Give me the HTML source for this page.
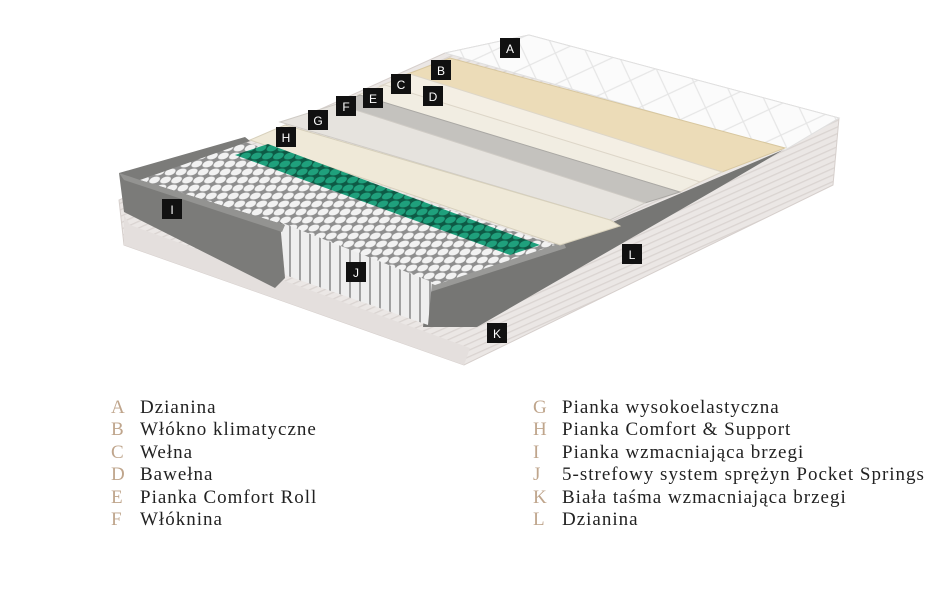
<!DOCTYPE html>
<html><head><meta charset="utf-8"><style>
html,body{margin:0;padding:0;background:#fff;width:950px;height:600px;overflow:hidden}
svg{position:absolute;left:0;top:0}
.leg{position:absolute;font-family:"Liberation Serif",serif;font-size:19px;letter-spacing:1px;color:#222;line-height:22.4px}
.leg div{white-space:nowrap}
.leg b{font-weight:normal;color:#bfa58c;display:inline-block;width:29px;letter-spacing:0}
</style></head><body>
<svg width="950" height="380" viewBox="0 0 950 380">
<defs>
<pattern id="sp" width="11" height="8" patternUnits="userSpaceOnUse" patternTransform="skewX(-30)">
<rect width="11" height="8" fill="#8e8e8e"/><ellipse cx="5.5" cy="4" rx="5" ry="3.5" fill="#f2f2f2"/></pattern>
<pattern id="gp" width="11" height="8" patternUnits="userSpaceOnUse" patternTransform="skewX(-30)">
<rect width="11" height="8" fill="#0d5a45"/><ellipse cx="5.5" cy="4" rx="5" ry="3.5" fill="#1fa07c"/></pattern>
<pattern id="col" width="10" height="10" patternUnits="userSpaceOnUse">
<rect width="10" height="10" fill="#a0a0a0"/><rect x="1" width="8" height="10" fill="#eeeeee"/></pattern>
<pattern id="q" width="40" height="40" patternUnits="userSpaceOnUse" patternTransform="rotate(20)">
<rect width="40" height="40" fill="#fbfbfb"/><path d="M0 0L40 40M40 0L0 40" stroke="#e6e6e6" stroke-width="1.2"/></pattern>
<pattern id="st" width="6" height="6" patternUnits="userSpaceOnUse" patternTransform="rotate(-24)">
<rect width="6" height="6" fill="#ebe7e5"/><rect width="6" height="1.3" fill="#dad4d1"/></pattern>
</defs>
<polygon points="119,200 124,245 464,365 833,185 839,118 529,35 445,53" fill="url(#st)" stroke="#d6cfcc"/>
<polygon points="124,215 124,245 464,365 470,348 130,225" fill="#e4dfdd"/>
<polygon points="445,53 529,35 839,118 785,150" fill="url(#q)" stroke="#e0e0e0"/>
<polygon points="427,287 563,243 783,150 720,187 477,327 423,327" fill="#767674"/>
<polygon points="427,283 563,241 566,248 430,292" fill="#999997"/>
<polygon points="405,75 450,58 785,148 722,172" fill="#ecdcb8" stroke="#d8c79f"/>
<polygon points="380,86 410,74 722,172 700,182" fill="#f4efe4" stroke="#ddd6c8"/>
<polygon points="358,95 385,85 700,182 680,192" fill="#f1ede2" stroke="#ddd6c8"/>
<polygon points="335,106 360,95 680,192 645,203" fill="#c4c2be" stroke="#aaa8a4"/>
<polygon points="280,122 337,104 645,203 610,220" fill="#e6e3de" stroke="#cfcbc5"/>
<polygon points="250,140 285,125 610,220 620,226 560,245" fill="#efe9d8" stroke="#d7d0bb"/>
<polygon points="140,180 245,142 555,245 435,285 285,225" fill="url(#sp)"/>
<polygon points="235,155 268,144 540,245 510,255" fill="url(#gp)"/>
<polygon points="280,222 432,282 428,325 285,275" fill="url(#col)"/>
<polygon points="119,173 245,137 250,141 140,180 285,225 280,222 285,278 275,288 124,212" fill="#7b7b79"/>
<polygon points="119,173 140,180 285,225 282,232 124,180" fill="#939391"/>
<g font-family="Liberation Sans,sans-serif" font-size="12" fill="#fff" text-anchor="middle">
<rect x="500" y="38" width="20" height="20" fill="#111"/><text x="510" y="53">A</text>
<rect x="431" y="60" width="20" height="20" fill="#111"/><text x="441" y="75">B</text>
<rect x="391" y="74" width="20" height="20" fill="#111"/><text x="401" y="89">C</text>
<rect x="423" y="86" width="20" height="20" fill="#111"/><text x="433" y="101">D</text>
<rect x="363" y="88" width="20" height="20" fill="#111"/><text x="373" y="103">E</text>
<rect x="336" y="96" width="20" height="20" fill="#111"/><text x="346" y="111">F</text>
<rect x="308" y="110" width="20" height="20" fill="#111"/><text x="318" y="125">G</text>
<rect x="276" y="127" width="20" height="20" fill="#111"/><text x="286" y="142">H</text>
<rect x="162" y="199" width="20" height="20" fill="#111"/><text x="172" y="214">I</text>
<rect x="346" y="262" width="20" height="20" fill="#111"/><text x="356" y="277">J</text>
<rect x="622" y="244" width="20" height="20" fill="#111"/><text x="632" y="259">L</text>
<rect x="487" y="323" width="20" height="20" fill="#111"/><text x="497" y="338">K</text>
</g>
</svg>
<div class="leg" style="left:111px;top:397px">
<div><b>A</b>Dzianina</div><div><b>B</b>Włókno klimatyczne</div><div><b>C</b>Wełna</div>
<div><b>D</b>Bawełna</div><div><b>E</b>Pianka Comfort Roll</div><div><b>F</b>Włóknina</div>
</div>
<div class="leg" style="left:533px;top:397px">
<div><b>G</b>Pianka wysokoelastyczna</div><div><b>H</b>Pianka Comfort &amp; Support</div><div><b>I</b>Pianka wzmacniająca brzegi</div>
<div><b>J</b>5-strefowy system sprężyn Pocket Springs</div><div><b>K</b>Biała taśma wzmacniająca brzegi</div><div><b>L</b>Dzianina</div>
</div>
</body></html>
